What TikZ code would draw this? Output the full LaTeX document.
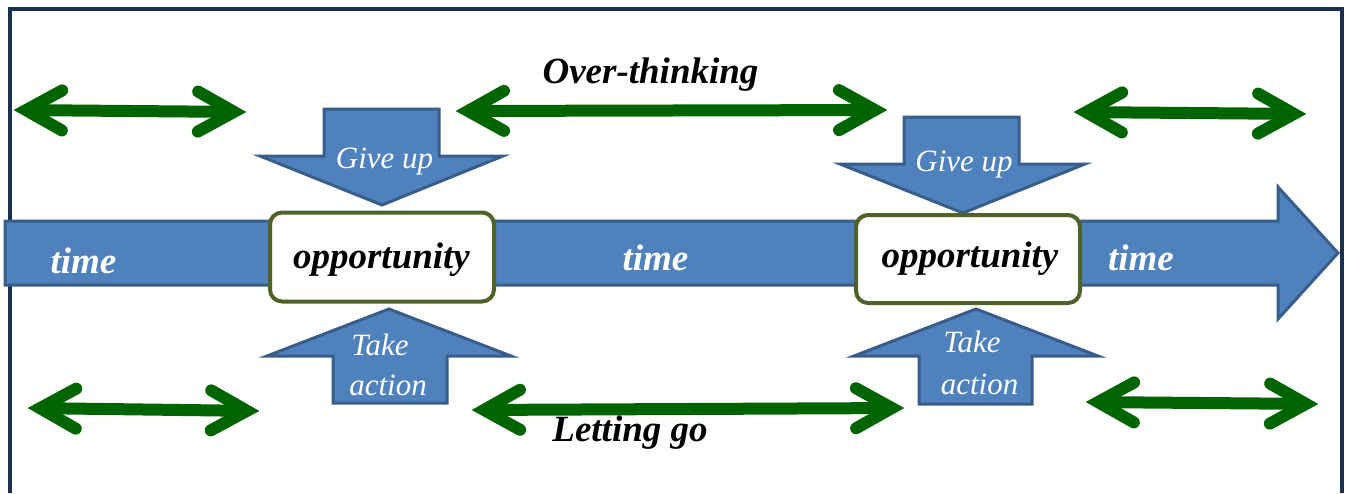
\documentclass[tikz,border=0pt]{standalone}
\usepackage{fontspec}
\setmainfont{Liberation Serif}
\usetikzlibrary{calc}
\definecolor{bfill}{HTML}{4F81BD}
\definecolor{bdraw}{HTML}{385D8A}
\definecolor{gdark}{HTML}{006400}
\definecolor{oliveb}{HTML}{4F6228}
\definecolor{framec}{HTML}{1B2F4F}
\tikzset{
  blueshape/.style={fill=bfill, draw=bdraw, line width=3pt, line join=miter},
  oppbox/.style={draw=oliveb, fill=white, line width=4pt, rounded corners=12pt, minimum width=224pt, minimum height=89pt, inner sep=0pt},
  bigtext/.style={font=\fontsize{37}{37}\selectfont\bfseries\itshape, inner sep=0pt, anchor=base},
  whitebig/.style={bigtext, text=white},
  smalltext/.style={font=\fontsize{31}{31}\selectfont\itshape, text=white, inner sep=0pt, anchor=base},
  gline/.style={draw=gdark, line width=12pt},
}
\newcommand\greenarrow[2]{%
  \draw[gline] ($(#1)!12pt!(#2)$) -- ($(#2)!12pt!(#1)$);
  \draw[gline, line cap=round, line join=miter]
    ($($(#1)!48pt!(#2)$)!20pt!90:(#2)$) -- ($(#1)!12pt!(#2)$) -- ($($(#1)!48pt!(#2)$)!20pt!-90:(#2)$);
  \draw[gline, line cap=round, line join=miter]
    ($($(#2)!48pt!(#1)$)!20pt!90:(#1)$) -- ($(#2)!12pt!(#1)$) -- ($($(#2)!48pt!(#1)$)!20pt!-90:(#1)$);
}
\begin{document}
\begin{tikzpicture}[x=1pt,y=-1pt]
\useasboundingbox (0,0) rectangle (1345,493);
% frame
\draw[framec, line width=4pt, line join=miter] (10,493) -- (10,8.5) -- (1342,8.5) -- (1342,493);
% time arrow
\draw[blueshape] (5,221) -- (1278,221) -- (1278,187) -- (1338,253) -- (1278,319) -- (1278,285) -- (5,285) -- cycle;
% give up arrows
\draw[blueshape] (324,109) -- (439,109) -- (439,156) -- (503,156) -- (382,205) -- (260,156) -- (324,156) -- cycle;
\draw[blueshape] (904,117) -- (1019,117) -- (1019,164) -- (1085,164) -- (963,213) -- (840,164) -- (904,164) -- cycle;
% take action arrows
\draw[blueshape] (389,309) -- (511,356) -- (447,356) -- (447,403) -- (333,403) -- (333,356) -- (267,356) -- cycle;
\draw[blueshape] (976,309) -- (1098,356) -- (1032,356) -- (1032,404) -- (919,404) -- (919,356) -- (854,356) -- cycle;
% opportunity boxes
\node[oppbox] (opp1) at (382,257) {};
\node[oppbox, minimum height=88pt] (opp2) at (968,259) {};
\node[bigtext] (opt1) at (381.5,268) {opportunity};
\node[bigtext] (opt2) at (970,267) {opportunity};
% time labels
\node[whitebig] (t1) at (83.5,273) {time};
\node[whitebig] (t2) at (655.5,270) {time};
\node[whitebig] (t3) at (1141,270) {time};
% give up / take action labels
\node[smalltext] (g1) at (384.5,168) {Give up};
\node[smalltext] (g2) at (964,171) {Give up};
\node[smalltext] (ta1) at (380,355) {Take};
\node[smalltext] (ac1) at (388,395) {action};
\node[smalltext] (ta2) at (972,352) {Take};
\node[smalltext] (ac2) at (979.5,394) {action};
% green double arrows
\coordinate (a1) at (14,110);   \coordinate (b1) at (246,112);
\coordinate (a2) at (456,111);  \coordinate (b2) at (887,110);
\coordinate (a3) at (1074,112); \coordinate (b3) at (1306,114);
\coordinate (a4) at (28,408);   \coordinate (b4) at (259,411);
\coordinate (a5) at (472,410);  \coordinate (b5) at (904,408);
\coordinate (a6) at (1086,402); \coordinate (b6) at (1318,404);
\greenarrow{a1}{b1}
\greenarrow{a2}{b2}
\greenarrow{a3}{b3}
\greenarrow{a4}{b4}
\greenarrow{a5}{b5}
\greenarrow{a6}{b6}
% labels
\node[bigtext] (over) at (650.5,83) {Over-thinking};
\node[bigtext] (let) at (630,441) {Letting go};
\end{tikzpicture}
\end{document}
